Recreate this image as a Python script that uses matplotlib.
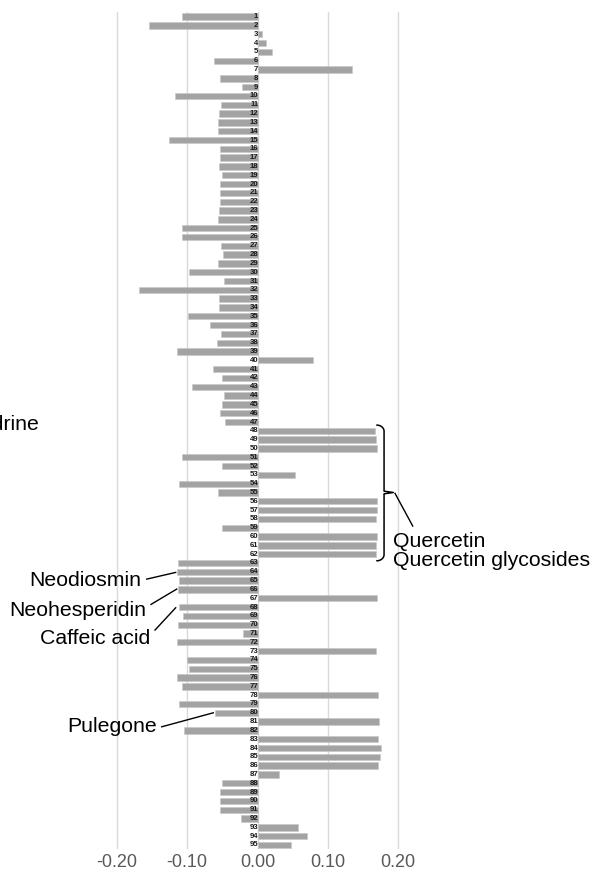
import matplotlib
matplotlib.use('Agg')
import matplotlib.pyplot as plt
import numpy as np

plt.rcParams['font.family'] = ['Liberation Sans', 'DejaVu Sans']

# データ
ids = list(range(1, 96))
values = [
    -0.107, -0.155, 0.006, 0.0125, 0.020, -0.062, 0.135, -0.053, -0.022, -0.118,
    -0.052, -0.055, -0.056, -0.056, -0.126, -0.054, -0.054, -0.055, -0.050, -0.054,
    -0.053, -0.054, -0.055, -0.056, -0.107, -0.108, -0.052, -0.049, -0.056, -0.097,
    -0.047, -0.169, -0.055, -0.055, -0.099, -0.067, -0.052, -0.057, -0.115, 0.079,
    -0.063, -0.050, -0.093, -0.047, -0.051, -0.054, -0.046, 0.167, 0.169, 0.170,
    -0.108, -0.050, 0.053, -0.111, -0.056, 0.170, 0.170, 0.169, -0.050, 0.170,
    0.169, 0.168, -0.1135, -0.1145, -0.112, -0.1125, 0.170, -0.112, -0.106, -0.1135,
    -0.020, -0.1145, 0.168, -0.100, -0.097, -0.1145, -0.107, 0.171, -0.111, -0.061,
    0.173, -0.105, 0.172, 0.175, 0.174, 0.172, 0.031, -0.051, -0.053, -0.054,
    -0.053, -0.024, 0.057, 0.070, 0.047,
]
xticks = [-0.20, -0.10, 0.00, 0.10, 0.20]

fig = plt.figure(figsize=(5.93, 8.76), dpi=100)
ax = fig.add_axes([0, 0.0304, 1, 0.9556])

for t in xticks:
    ax.axvline(t, color='#d9d9d9', lw=1, zorder=0)

ax.barh(ids, values, height=0.72, color='#a3a3a3', edgecolor='#c8c8c8', linewidth=0.4, zorder=2)
for i, v in zip(ids, values):
    ax.text(0.001, i, str(i), ha='right', va='center', fontsize=5.6,
            fontweight='bold', color='#1a1a1a', zorder=3)

ax.set_xlim(-0.3663, 0.4772)
ax.set_ylim(95.5, 0.5)
ax.set_xticks(xticks)
ax.set_xticklabels(['%.2f' % t for t in xticks], fontsize=13, color='#595959')
ax.tick_params(axis='x', length=0, pad=3.2)
ax.set_yticks([])
for s in ax.spines.values():
    s.set_visible(False)

fs = 15.3
# 左側の注釈
ax.text(-0.1647, 65.02, 'Neodiosmin', ha='right', va='center', fontsize=fs)
ax.plot([-0.1576, -0.1164], [64.83, 64.07], color='black', lw=1)
ax.text(-0.1576, 68.34, 'Neohesperidin', ha='right', va='center', fontsize=fs)
ax.plot([-0.1515, -0.1149], [67.70, 65.96], color='black', lw=1)
ax.text(-0.1529, 71.56, 'Caffeic acid', ha='right', va='center', fontsize=fs)
ax.plot([-0.1458, -0.1164], [70.61, 68.08], color='black', lw=1)
ax.text(-0.1434, 81.59, 'Pulegone', ha='right', va='center', fontsize=fs)
ax.plot([-0.1363, -0.0629], [81.59, 80.0], color='black', lw=1)
ax.text(-0.3105, 47.3, 'Ephedrine', ha='right', va='center', fontsize=fs, clip_on=False)

# 右側の波括弧
y0, y1, ym = 47.35, 62.75, 55.0
xa, xb, xc = 0.1696, 0.180, 0.1932
r = 0.7
tt = np.linspace(0, np.pi / 2, 20)
bx = list(xa + (xb - xa) * np.sin(tt)) + [xb, xb] + [xc] + [xb, xb] + list(xa + (xb - xa) * np.sin(tt[::-1]))
by = list(y0 + r - r * np.cos(tt)) + [ym - r, ym - 0.15] + [ym] + [ym + 0.15, ym + r] + list(y1 - r + r * np.cos(tt[::-1]))
ax.plot(bx, by, color='black', lw=1.1, solid_capstyle='round', zorder=4)
ax.plot([0.1956, 0.2208], [55.10, 58.81], color='black', lw=1)
ax.text(0.1923, 61.59, 'Quercetin\nQuercetin glycosides', ha='left', va='center',
        fontsize=fs, linespacing=1.0)

fig.savefig('out.png', dpi=100)
